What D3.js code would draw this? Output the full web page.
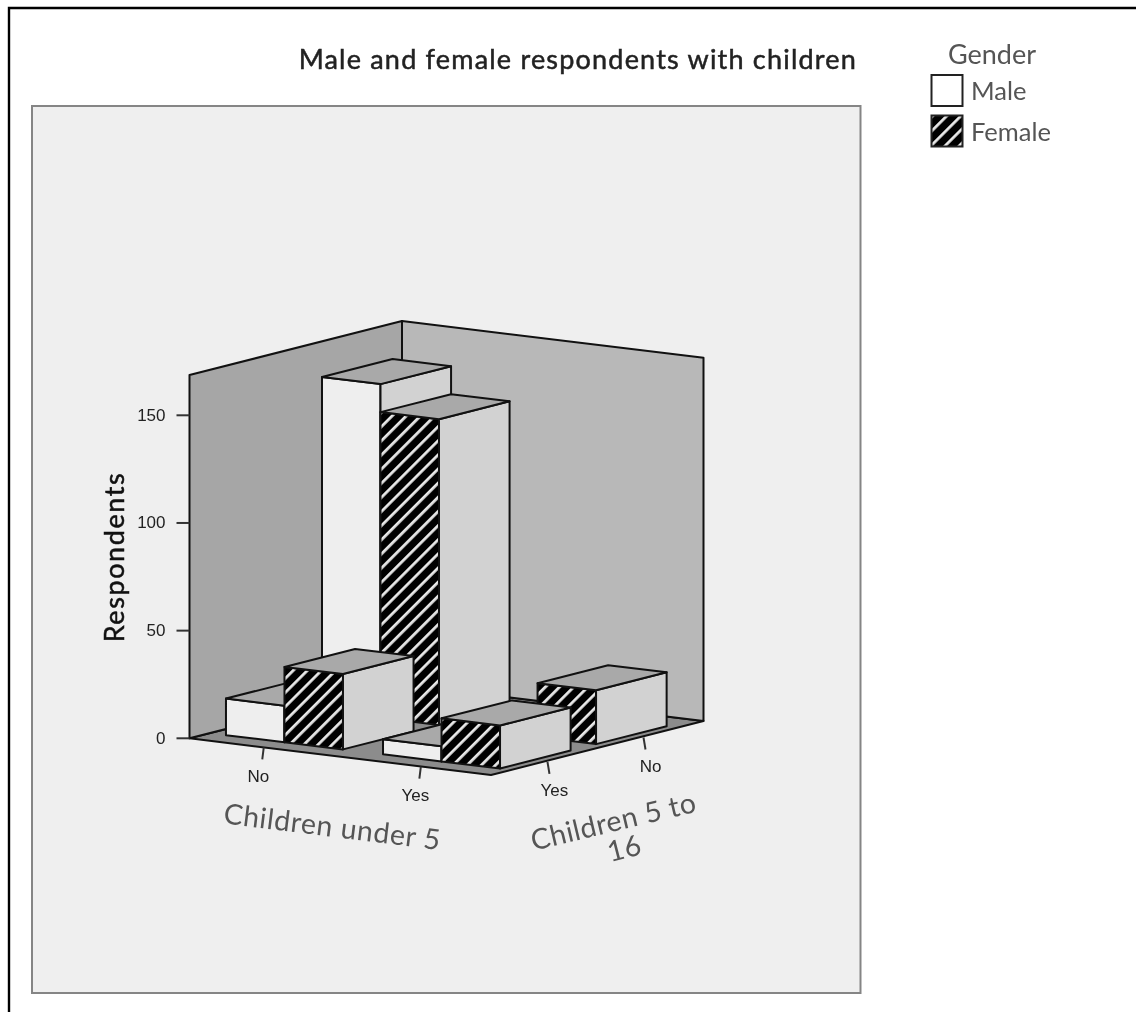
<!DOCTYPE html>
<html><head><meta charset="utf-8">
<script src="https://cdn.jsdelivr.net/npm/d3@7/dist/d3.min.js"></script>
<style>html,body{margin:0;padding:0;background:#fff}svg{display:block;filter:blur(0.35px)}</style>
</head><body><div id="c"></div>
<script>
const title = "Male and female respondents with children";
const under5Categories = ["No", "Yes"];
const age5to16Categories = ["Yes", "No"]; // front row first
const genders = ["Male", "Female"];
// rows: age5to16Categories, columns: under5Categories
const maleCounts = [[17, 7], [155, 0]];
const femaleCounts = [[35, 20], [142, 25]];
const yTicks = [0, 50, 100, 150];

const W = 1136, H = 1012;
const svg = d3.select("#c").append("svg").attr("width", W).attr("height", H).attr("viewBox", `0 0 ${W} ${H}`);
const defs = svg.append("defs");
const pat = defs.append("pattern").attr("id", "hatch").attr("patternUnits", "userSpaceOnUse")
  .attr("width", 10).attr("height", 10).attr("patternTransform", "rotate(45)");
pat.append("rect").attr("width", 10).attr("height", 10).attr("fill", "#000");
pat.append("rect").attr("x", 0).attr("width", 2.8).attr("height", 10).attr("fill", "#e8e8e8");

svg.append("rect").attr("width", W).attr("height", H).attr("fill", "#fff");
svg.append("path").attr("d", `M9,${H} V8 H${W}`).attr("fill", "none").attr("stroke", "#000").attr("stroke-width", 2.4);
svg.append("rect").attr("x", 32).attr("y", 106).attr("width", 828.5).attr("height", 887).attr("fill", "#efefef").attr("stroke", "#858585").attr("stroke-width", 2);

// oblique projection: three linear scales for the three axes
const yScale = d3.scaleLinear().domain([0, 150]).range([0, -323]);
const uX = d3.scaleLinear().domain([0, 1]).range([189.5, 491]);
const uY = d3.scaleLinear().domain([0, 1]).range([738.3, 775]);
const wX = d3.scaleLinear().domain([0, 1]).range([0, 212.5]);
const wY = d3.scaleLinear().domain([0, 1]).range([0, -54]);
const P = (u, w, v) => [uX(u) + wX(w), uY(u) + wY(w) + yScale(v)];
const yTop = 168.7;

const uBand = d3.scaleBand().domain(under5Categories).range([0.054, 0.963]).paddingInner(0.255);
const wBand = d3.scaleBand().domain(age5to16Categories).range([0.095, 0.879]).paddingInner(0.265);
const gBand = d3.scaleBand().domain(genders).range([0, uBand.bandwidth()]);

const line = d3.line();
const g = svg.append("g");
const poly = (pts, fill) => g.append("path").attr("d", line(pts) + "Z").attr("fill", fill)
  .attr("stroke", "#111").attr("stroke-width", 2).attr("stroke-linejoin", "round");

// walls and floor
poly([P(0,0,0), P(0,1,0), P(1,1,0), P(1,0,0)], "#8c8c8c");
poly([P(0,0,0), P(0,0,yTop), P(0,1,yTop), P(0,1,0)], "#a6a6a6");
poly([P(0,1,0), P(0,1,yTop), P(1,1,yTop), P(1,1,0)], "#b8b8b8");

// axes ticks and labels
const tick = (a, b) => g.append("line").attr("x1", a[0]).attr("y1", a[1]).attr("x2", b[0]).attr("y2", b[1]).attr("stroke", "#333").attr("stroke-width", 2);
const tickTxt = (x, y, s, anchor) => g.append("text").attr("x", x).attr("y", y).attr("text-anchor", anchor)
  .attr("dominant-baseline", "middle").attr("font-family", "Liberation Sans").attr("font-size", 17).attr("fill", "#222").text(s);
yTicks.forEach(t => {
  const p = P(0, 0, t);
  tick([p[0] - 13, p[1]], p);
  tickTxt(p[0] - 24, p[1] + 1, t, "end");
});
under5Categories.forEach((c, i) => {
  const u = uBand(c) + uBand.bandwidth() / 2, p = P(u, 0, 0);
  tick([p[0] - 0.5, p[1]], [p[0] - 2, p[1] + 12]);
  tickTxt(p[0] - 6, p[1] + 30, c, "middle");
});
age5to16Categories.forEach(c => {
  const w = wBand(c) + wBand.bandwidth() / 2, p = P(1, w, 0);
  tick([p[0] + 1, p[1] + 1], [p[0] + 3, p[1] + 13]);
  tickTxt(p[0] + 8, p[1] + 31, c, "middle");
});

// bars, back row first
const d = wBand.bandwidth();
[...age5to16Categories.keys()].reverse().forEach(r => {
  under5Categories.forEach((c, k) => {
    genders.forEach(gd => {
      const v = (gd === "Male" ? maleCounts : femaleCounts)[r][k];
      if (!v) return;
      const u0 = uBand(c) + gBand(gd), u1 = u0 + gBand.bandwidth();
      const w0 = wBand(age5to16Categories[r]), w1 = w0 + d;
      const front = gd === "Male" ? "#eeeeee" : "url(#hatch)";
      poly([P(u0,w0,0), P(u0,w0,v), P(u1,w0,v), P(u1,w0,0)], front);
      poly([P(u1,w0,0), P(u1,w0,v), P(u1,w1,v), P(u1,w1,0)], "#d2d2d2");
      poly([P(u0,w0,v), P(u0,w1,v), P(u1,w1,v), P(u1,w0,v)], "#a9a9a9");
    });
  });
});

const font = "Lato, 'Open Sans', sans-serif";
const text = (x, y, s, size, opts = {}) => svg.append("text").attr("x", x).attr("y", y)
  .attr("font-family", font).attr("font-size", size).attr("fill", opts.fill || "#333")
  .attr("font-weight", opts.weight || 400).attr("text-anchor", opts.anchor || "middle")
  .attr("letter-spacing", opts.ls || 0)
  .attr("stroke", opts.stroke || "none").attr("stroke-width", opts.stroke ? 0.5 : 0)
  .attr("dominant-baseline", "middle").attr("transform", opts.rot ? `rotate(${opts.rot} ${x} ${y})` : null).text(s);

text(857, 62, title, 27, {anchor: "end", fill: "#222", ls: 1.2, stroke: "#222"});
text(117, 557, "Respondents", 27, {rot: -90, fill: "#111", ls: 1.6, stroke: "#111"});
text(332, 829.5, "Children under 5", 28.5, {rot: 7, fill: "#555", ls: 0.6});
text(614, 824, "Children 5 to", 28.5, {rot: -13.5, fill: "#555", ls: 0.5});
text(625, 851, "16", 28.5, {rot: -14.5, fill: "#555", ls: 0.5});

// legend
text(992, 57, "Gender", 27, {fill: "#555"});
genders.forEach((gd, i) => {
  const y = [75, 115.5][i];
  svg.append("rect").attr("x", 931.5).attr("y", y).attr("width", 31).attr("height", 31)
    .attr("fill", i ? "url(#hatch)" : "#fff").attr("stroke", "#222").attr("stroke-width", 2);
  text(971, y + 19, gd, 25.5, {anchor: "start", fill: "#555"});
});
</script></body></html>
